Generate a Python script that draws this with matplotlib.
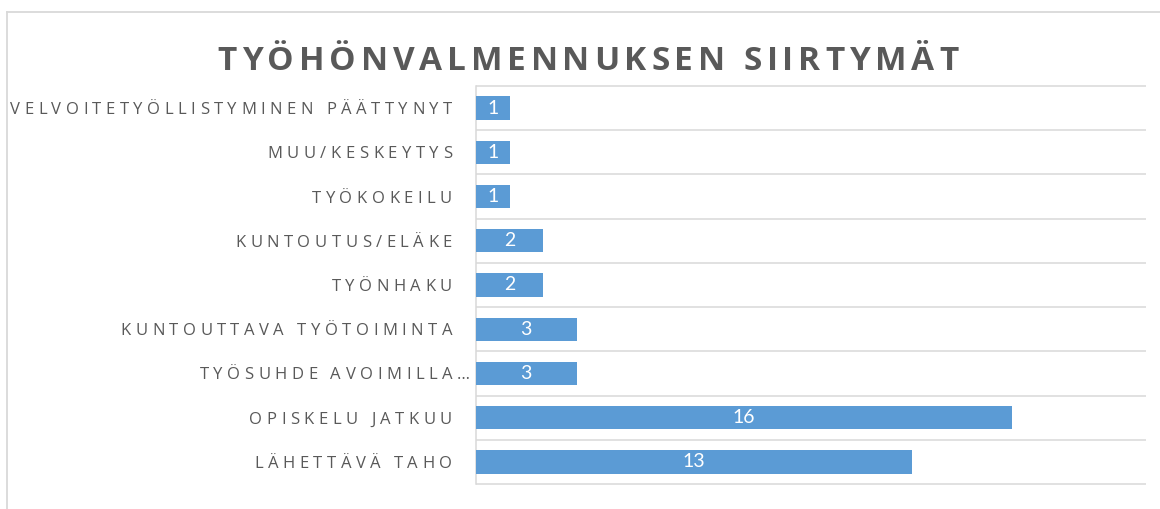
import numpy as np
import matplotlib
matplotlib.use("Agg")
import matplotlib.pyplot as plt
from matplotlib.font_manager import FontProperties
from matplotlib.transforms import IdentityTransform
from matplotlib.lines import Line2D

title = "TYÖHÖNVALMENNUKSEN SIIRTYMÄT"
categories = [
    "VELVOITETYÖLLISTYMINEN PÄÄTTYNYT",
    "MUU/KESKEYTYS",
    "TYÖKOKEILU",
    "KUNTOUTUS/ELÄKE",
    "TYÖNHAKU",
    "KUNTOUTTAVA TYÖTOIMINTA",
    "TYÖSUHDE AVOIMILLA…",
    "OPISKELU JATKUU",
    "LÄHETTÄVÄ TAHO",
]
values = [1, 1, 1, 2, 2, 3, 3, 16, 13]

W, H, DPI = 1160, 509, 100
GRAY_TXT = "#595959"
GRID = "#D9D9D9"
BAR = "#5B9BD5"

fig = plt.figure(figsize=(W / DPI, H / DPI), dpi=DPI)
fig.patch.set_facecolor("white")
ax = fig.add_axes([476 / W, (H - 484) / H, (1146 - 476) / W, (484 - 86) / H])

y = np.arange(len(categories))
bars = ax.barh(y, values, height=0.53, color=BAR, zorder=3)
ax.set_ylim(len(categories) - 0.5, -0.5)
ax.set_xlim(0, 20)
ax.hlines(np.arange(-0.5, len(categories), 1), 0, 20, colors=GRID, lw=1.1,
          clip_on=False, zorder=1)
for s in ["top", "right", "bottom"]:
    ax.spines[s].set_visible(False)
ax.spines["left"].set_color(GRID)
ax.spines["left"].set_linewidth(1.1)
ax.set_xticks([])
ax.set_yticks([])

ax.bar_label(bars, labels=[str(v) for v in values], label_type="center",
             color="white", fontsize=14, fontfamily="Lato", zorder=4)

renderer = fig.canvas.get_renderer()


def advance(c, prop):
    w2, _, _ = renderer.get_text_width_height_descent("HH", prop, ismath=False)
    w3, _, _ = renderer.get_text_width_height_descent("H" + c + "H", prop, ismath=False)
    return w3 - w2


def draw_spaced(text, x, yc, prop, spacing, ha, color):
    tail = ""
    if ha == "right" and text.endswith("…"):
        tail = "…"
        text = text[:-1]
    advs = [advance(c, prop) for c in text]
    total = sum(advs) + spacing * (len(text) - 1)
    if ha == "right":
        x0 = x - total
    else:
        x0 = x - total / 2
    _, cap_h, _ = renderer.get_text_width_height_descent("H", prop, ismath=False)
    base = yc - cap_h / 2
    pen = x0
    chars = text + tail
    all_advs = advs + ([advance(tail, prop)] if tail else [])
    for c, a in zip(chars, all_advs):
        if c != " ":
            fig.text(pen + a / 2, base, c, fontproperties=prop, color=color,
                     ha="center", va="baseline", transform=IdentityTransform())
        pen += a + spacing


label_prop = FontProperties(family="Open Sans", size=12)
for i, lab in enumerate(categories):
    yc = ax.transData.transform((0, i))[1]
    draw_spaced(lab, 452, yc, label_prop, 4.5, "right", GRAY_TXT)

title_prop = FontProperties(family="Open Sans", weight="bold", size=24)
draw_spaced(title, 588, H - 58, title_prop, 4.8, "center", GRAY_TXT)

# chart outer border (left and top edges visible)
fig.add_artist(Line2D([6.5, 6.5], [0, H - 11.5], color=GRID, lw=1.3,
                      transform=IdentityTransform()))
fig.add_artist(Line2D([6.5, W], [H - 11.5, H - 11.5], color=GRID, lw=1.3,
                      transform=IdentityTransform()))

fig.savefig("out.png", dpi=DPI)
